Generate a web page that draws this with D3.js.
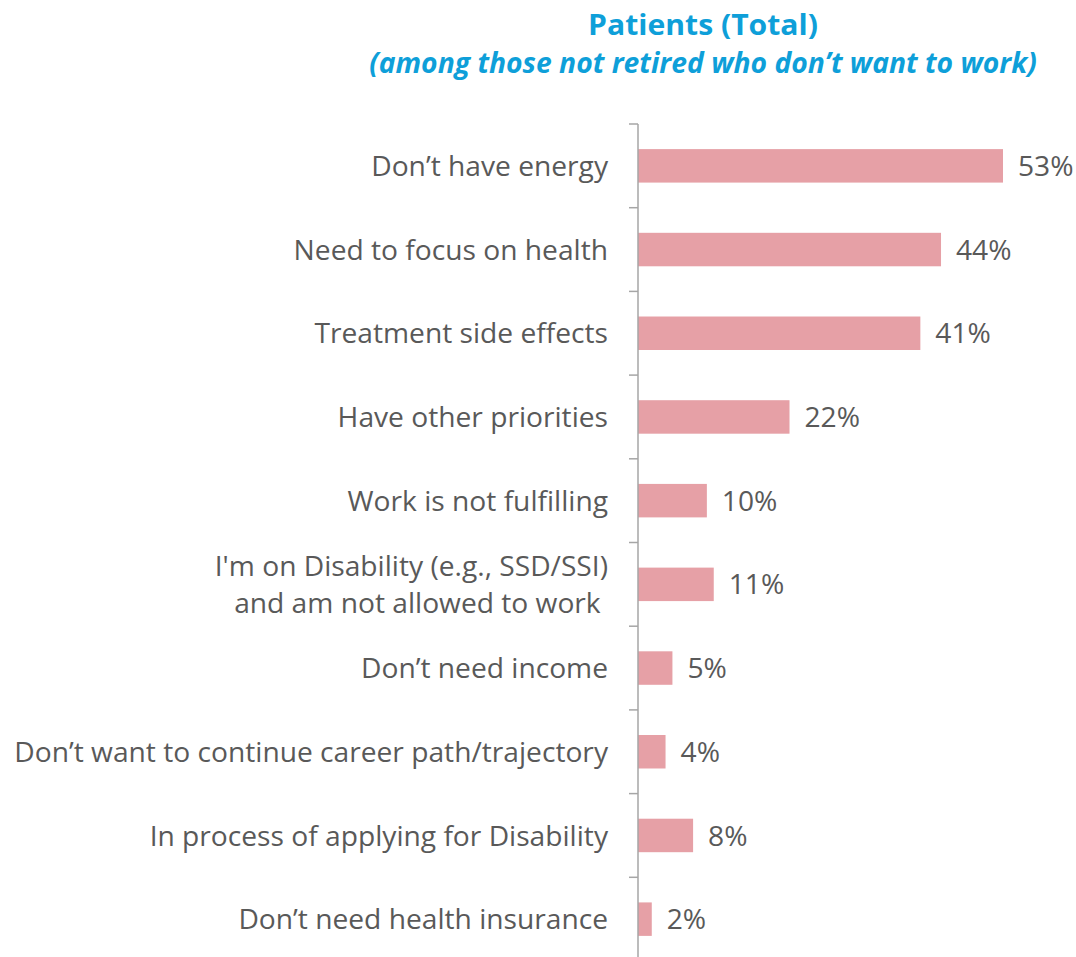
<!DOCTYPE html>
<html>
<head>
<meta charset="utf-8">
<script src="https://cdn.jsdelivr.net/npm/d3@7"></script>
<style>
  html, body { margin: 0; padding: 0; background: #ffffff; }
  svg { display: block; }
</style>
</head>
<body>
<svg id="chart" width="1076" height="957"></svg>
<script>
// Reasons for not wanting to work
const categories = [
  "Don’t have energy",
  "Need to focus on health",
  "Treatment side effects",
  "Have other priorities",
  "Work is not fulfilling",
  "I'm on Disability (e.g., SSD/SSI)\nand am not allowed to work ",
  "Don’t need income",
  "Don’t want to continue career path/trajectory",
  "In process of applying for Disability",
  "Don’t need health insurance"
];
const values = [53, 44, 41, 22, 10, 11, 5, 4, 8, 2];
const valueLabels = ["53%", "44%", "41%", "22%", "10%", "11%", "5%", "4%", "8%", "2%"];
const titleText = "Patients (Total)";
const subtitleText = "(among those not retired who don’t want to work)";

const FONT = "'Open Sans', 'Noto Sans', sans-serif";
const TEXT = "#595959";
const BLUE = "#0E9FD9";
const svg = d3.select("#chart");

// Scale a text element's font size so it spans the given width
function fitWidth(sel, target) {
  const fs = parseFloat(sel.attr("font-size"));
  const w = sel.node().getComputedTextLength();
  const nfs = fs * target / w;
  sel.attr("font-size", nfs);
  return nfs;
}

const axisX = 638;
const y = d3.scaleBand()
  .domain(categories)
  .range([124, 961])
  .paddingInner(0.6)
  .paddingOuter(0.3);

const x = d3.scaleLinear().domain([0, 53]).range([axisX, 1003]);

// Titles (the heading is set in a narrow, tall cut)
svg.append("text")
  .attr("x", 703).attr("y", 35)
  .attr("text-anchor", "middle")
  .attr("font-family", FONT)
  .attr("font-weight", "bold")
  .attr("font-size", 29)
  .attr("textLength", 230)
  .attr("lengthAdjust", "spacingAndGlyphs")
  .attr("fill", BLUE)
  .text(titleText);

const subtitle = svg.append("text")
  .attr("x", 703).attr("y", 73)
  .attr("text-anchor", "middle")
  .attr("font-family", FONT)
  .attr("font-weight", "bold")
  .attr("font-style", "italic")
  .attr("font-size", 26)
  .attr("fill", BLUE)
  .text(subtitleText);
fitWidth(subtitle, 668);

// Measure the longest single-line label to size category text
const probe = svg.append("text")
  .attr("font-family", FONT).attr("font-size", 26)
  .text(categories[7]);
const labelSize = fitWidth(probe, 594);
probe.remove();

// Bars
svg.append("g").selectAll("rect")
  .data(categories)
  .join("rect")
  .attr("x", x(0))
  .attr("y", d => y(d))
  .attr("width", (d, i) => x(values[i]) - x(0))
  .attr("height", y.bandwidth())
  .attr("fill", "#E6A0A6");

// Value labels
svg.append("g").selectAll("text")
  .data(categories)
  .join("text")
  .attr("x", (d, i) => x(values[i]) + 15)
  .attr("y", d => y(d) + y.bandwidth() / 2)
  .attr("dy", "0.36em")
  .attr("font-family", FONT)
  .attr("font-size", labelSize)
  .attr("fill", TEXT)
  .text((d, i) => valueLabels[i]);

// Category axis: line plus ticks at band boundaries
const axisG = svg.append("g");
const step = y.step();
const bounds = d3.range(categories.length + 1).map(i => 124 + i * step);
axisG.append("line")
  .attr("x1", axisX).attr("x2", axisX)
  .attr("y1", 124).attr("y2", 961)
  .attr("stroke", "#A6A6A6").attr("stroke-width", 1.5);
axisG.selectAll("line.tick")
  .data(bounds)
  .join("line")
  .attr("class", "tick")
  .attr("x1", axisX - 9).attr("x2", axisX)
  .attr("y1", d => d).attr("y2", d => d)
  .attr("stroke", "#A6A6A6").attr("stroke-width", 1.5);

// Category labels (right-aligned, multi-line where needed)
const labelG = svg.append("g")
  .attr("font-family", FONT)
  .attr("font-size", labelSize)
  .attr("fill", TEXT)
  .attr("text-anchor", "end");

categories.forEach(c => {
  const lines = c.split("\n");
  const cy = y(c) + y.bandwidth() / 2;
  const lh = 37;
  const t = labelG.append("text").attr("y", cy);
  lines.forEach((ln, j) => {
    t.append("tspan")
      .attr("x", 608)
      .attr("y", cy + (j - (lines.length - 1) / 2) * lh)
      .attr("dy", "0.36em")
      .attr("xml:space", "preserve")
      .style("white-space", "pre")
      .text(ln);
  });
});
</script>
</body>
</html>
